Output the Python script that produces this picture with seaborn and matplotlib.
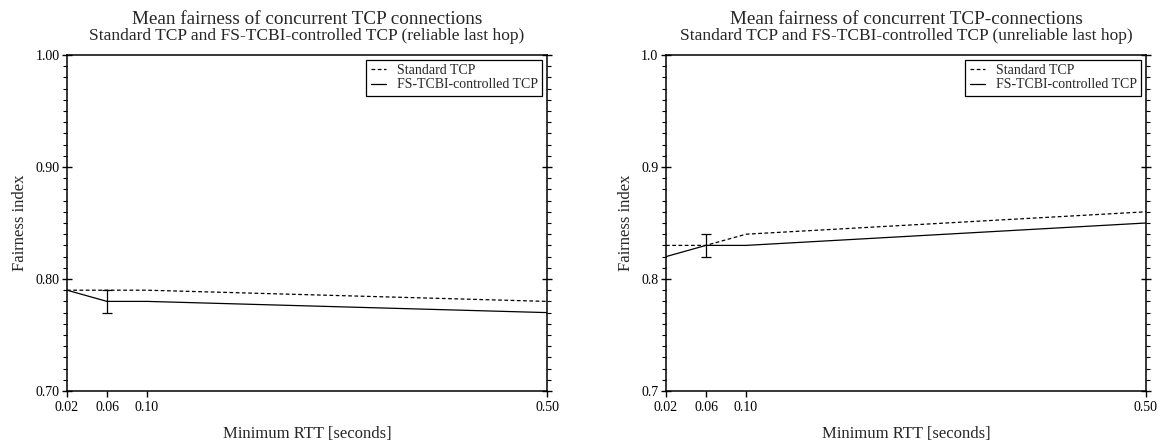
import matplotlib
matplotlib.use("Agg")
import matplotlib.pyplot as plt
import seaborn as sns
import pandas as pd
import numpy as np
from matplotlib.ticker import MultipleLocator, FormatStrFormatter, FixedLocator

rtt = [0.02, 0.06, 0.10, 0.50]
std_reliable = [0.79, 0.79, 0.79, 0.78]
fs_reliable = [0.79, 0.78, 0.78, 0.77]
std_unreliable = [0.83, 0.83, 0.84, 0.86]
fs_unreliable = [0.82, 0.83, 0.83, 0.85]
err_x = [0.06]
err_reliable = [0.78]
err_reliable_delta = [0.01]
err_unreliable = [0.83]
err_unreliable_delta = [0.01]
xtick_labels = ["0.02", "0.06", "0.10", "0.50"]
series_names = ["Standard TCP", "FS-TCBI-controlled TCP"]

titles = [
    ("Mean fairness of concurrent TCP connections",
     "Standard TCP and FS-TCBI-controlled TCP (reliable last hop)"),
    ("Mean fairness of concurrent TCP-connections",
     "Standard TCP and FS-TCBI-controlled TCP (unreliable last hop)"),
]

sns.set_theme(style="white")
plt.rcParams["font.family"] = ["Liberation Serif", "DejaVu Serif"]
plt.rcParams["axes.linewidth"] = 1.1

fig = plt.figure(figsize=(11.62, 4.44), dpi=100)
ax1 = fig.add_axes([67/1162, 1-391/444, 480/1162, 336/444])
ax2 = fig.add_axes([666/1162, 1-391/444, 480/1162, 336/444])

panels = [
    (ax1, std_reliable, fs_reliable, err_reliable, err_reliable_delta, "%.2f"),
    (ax2, std_unreliable, fs_unreliable, err_unreliable, err_unreliable_delta, "%.1f"),
]

for i, (ax, std, fs, ey, ed, yfmt) in enumerate(panels):
    df = pd.DataFrame({
        "rtt": rtt * 2,
        "fair": std + fs,
        "series": [series_names[0]] * len(rtt) + [series_names[1]] * len(rtt),
    })
    sns.lineplot(data=df, x="rtt", y="fair", style="series",
                 style_order=series_names,
                 dashes={series_names[0]: (3, 2), series_names[1]: ""},
                 color="black", linewidth=0.9, ax=ax, legend=True)
    ax.errorbar(err_x, ey, yerr=ed, fmt="none", ecolor="black",
                elinewidth=0.9, capsize=3.6, capthick=0.9)
    ax.set_xlim(0.02, 0.50)
    ax.set_ylim(0.70, 1.00)
    ax.xaxis.set_major_locator(FixedLocator(rtt))
    ax.set_xticklabels(xtick_labels)
    ax.yaxis.set_major_locator(MultipleLocator(0.1))
    ax.yaxis.set_minor_locator(MultipleLocator(0.01))
    ax.yaxis.set_major_formatter(FormatStrFormatter(yfmt))
    for s in ax.spines.values():
        s.set_visible(True)
        s.set_color("black")
        s.set_linewidth(1.1)
    ax.tick_params(axis="y", which="major", direction="inout", length=7,
                   width=1.0, left=True, right=True, labelsize=10,
                   colors="black", pad=2)
    ax.tick_params(axis="y", which="minor", direction="out", length=3,
                   width=0.8, left=True, right=True, colors="black")
    ax.tick_params(axis="x", which="major", direction="out", length=4,
                   width=1.0, bottom=True, top=False, labelsize=10,
                   colors="black", pad=3.5)
    ax.set_xlabel("Minimum RTT [seconds]", fontsize=12, labelpad=8)
    ax.set_ylabel("Fairness index", fontsize=12, labelpad=5)
    ax.text(0.5, 1.107, titles[i][0], transform=ax.transAxes,
            ha="center", va="center", fontsize=13.8)
    ax.text(0.5, 1.056, titles[i][1], transform=ax.transAxes,
            ha="center", va="center", fontsize=12.5)
    leg = ax.legend(loc="upper right", fontsize=10, frameon=True,
                    fancybox=False, edgecolor="black", handlelength=1.1,
                    borderpad=0.3, labelspacing=0.1, handletextpad=0.8,
                    borderaxespad=0.35)
    leg.get_frame().set_linewidth(0.9)
    leg.get_frame().set_alpha(1)

fig.savefig("out.png", dpi=100)
